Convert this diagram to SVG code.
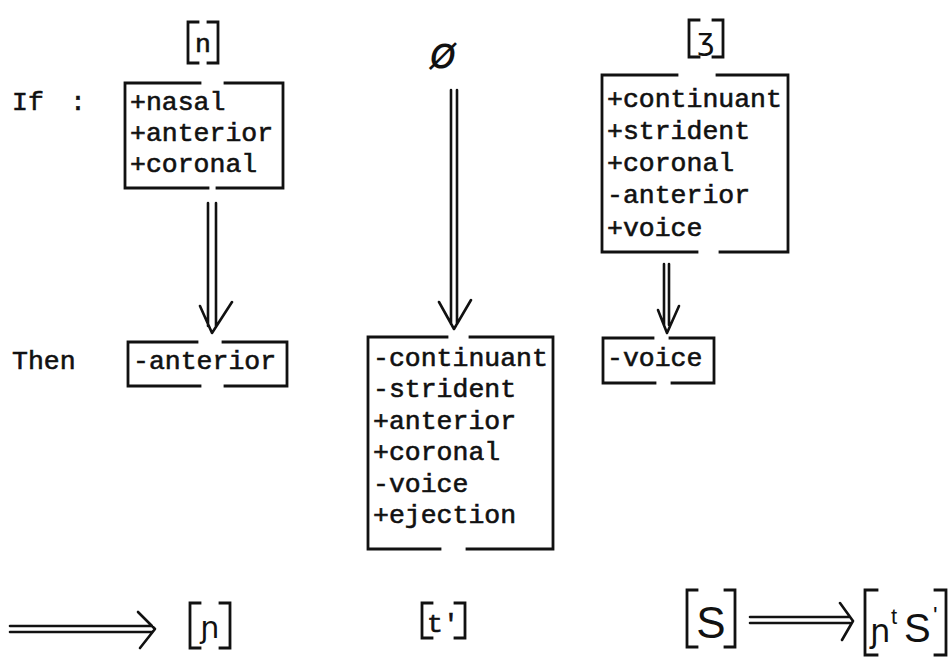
<svg xmlns="http://www.w3.org/2000/svg" width="949" height="657" viewBox="0 0 949 657">
<style>
.br{fill:none;stroke:#111;stroke-width:2.8;stroke-linecap:square}
.ar{fill:none;stroke:#111;stroke-width:2.6;stroke-linecap:round;stroke-linejoin:round}
.tx{font-family:"Liberation Mono","DejaVu Sans Mono",monospace;font-size:26.5px;fill:#111;stroke:#111;stroke-width:0.6}
.ipa{font-family:"DejaVu Sans","Noto Sans",sans-serif;fill:#111}
.hs{font-family:"Liberation Sans","DejaVu Sans",sans-serif;fill:#111}
</style>
<rect width="949" height="657" fill="#fff"/>
<g id="label-if"><text class="tx" x="12" y="110">If</text><text class="tx" x="70" y="110">:</text></g>
<g id="label-then"><text class="tx" x="12" y="369">Then</text></g>
<g id="node-n">
<path class="br" d="M198 22 H188 V63 H198"/><path class="br" d="M208 22 H218 V63 H208"/>
<text class="tx" x="203" y="52" text-anchor="middle">n</text>
</g>
<g id="node-if-box">
<path class="br" d="M200 83 H125 V188 H208"/><path class="br" d="M225 83 H283 V188 H217"/>
<text class="tx" x="130" y="110">+nasal</text>
<text class="tx" x="130" y="141">+anterior</text>
<text class="tx" x="130" y="172">+coronal</text>
</g>
<g id="node-null"><text class="ipa" x="443" y="68" font-size="44" text-anchor="middle" font-style="italic">ø</text></g>
<g id="node-zh">
<path class="br" d="M699 20 H689 V57 H699"/><path class="br" d="M713 20 H723 V57 H713"/>
<text class="ipa" x="706" y="50" font-size="30" text-anchor="middle">ʒ</text>
</g>
<g id="node-zh-box">
<path class="br" d="M677 75 H602 V252 H697"/><path class="br" d="M717 75 H788 V252 H720"/>
<text class="tx" x="607" y="107">+continuant</text>
<text class="tx" x="607" y="139">+strident</text>
<text class="tx" x="607" y="171">+coronal</text>
<text class="tx" x="607" y="203">-anterior</text>
<text class="tx" x="607" y="236">+voice</text>
</g>
<g id="node-anterior">
<path class="br" d="M197 342 H128 V386 H200"/><path class="br" d="M223 342 H287 V386 H225"/>
<text class="tx" x="133" y="369">-anterior</text>
</g>
<g id="node-epenthesis">
<path class="br" d="M447 337 H368 V549 H440"/><path class="br" d="M470 337 H553 V549 H467"/>
<text class="tx" x="373" y="366">-continuant</text>
<text class="tx" x="373" y="397">-strident</text>
<text class="tx" x="373" y="429">+anterior</text>
<text class="tx" x="373" y="460">+coronal</text>
<text class="tx" x="373" y="492">-voice</text>
<text class="tx" x="373" y="523">+ejection</text>
</g>
<g id="node-voice">
<path class="br" d="M653 338 H603 V383 H655"/><path class="br" d="M670 338 H714 V383 H672"/>
<text class="tx" x="607" y="366">-voice</text>
</g>
<g id="node-palatal">
<path class="br" d="M200 603 H190 V648 H200"/><path class="br" d="M220 603 H230 V648 H220"/>
<text class="ipa" x="210" y="638" font-size="30" text-anchor="middle">ɲ</text>
</g>
<g id="node-t">
<path class="br" d="M432 603 H422 V638 H432"/><path class="br" d="M455 603 H465 V638 H455"/>
<text class="tx" x="443" y="632" text-anchor="middle">t'</text>
</g>
<g id="node-S">
<path class="br" d="M697 590 H687 V647 H697"/><path class="br" d="M725 590 H735 V647 H725"/>
<text class="hs" x="711" y="638" font-size="44" text-anchor="middle">S</text>
</g>
<g id="node-result">
<path class="br" d="M877 590 H865 V655 H877"/><path class="br" d="M935 590 H946 V655 H935"/>
<text class="ipa" x="870" y="642" font-size="32">ɲ</text>
<text class="hs" x="891" y="624" font-size="22">t</text>
<text class="hs" x="904" y="642" font-size="40">S</text>
<text class="hs" x="933" y="624" font-size="24">'</text>
</g>
<g id="connectors">
<path class="ar" d="M208 203 V326 M216 203 V326 M200 306 L212 333 L232 302"/>
<path class="ar" d="M451 90 V324 M457 90 V324 M439 302 L454 329 L471 300"/>
<path class="ar" d="M664 264 V325 M669 264 V325 M658 310 L667 333 L679 306"/>
<path class="ar" d="M10 626 H152 M10 632 H152 M138 612 L155 629 L140 648"/>
<path class="ar" d="M750 617 H850 M750 623 H850 M840 603 L853 621 L842 640"/>
</g>
</svg>
